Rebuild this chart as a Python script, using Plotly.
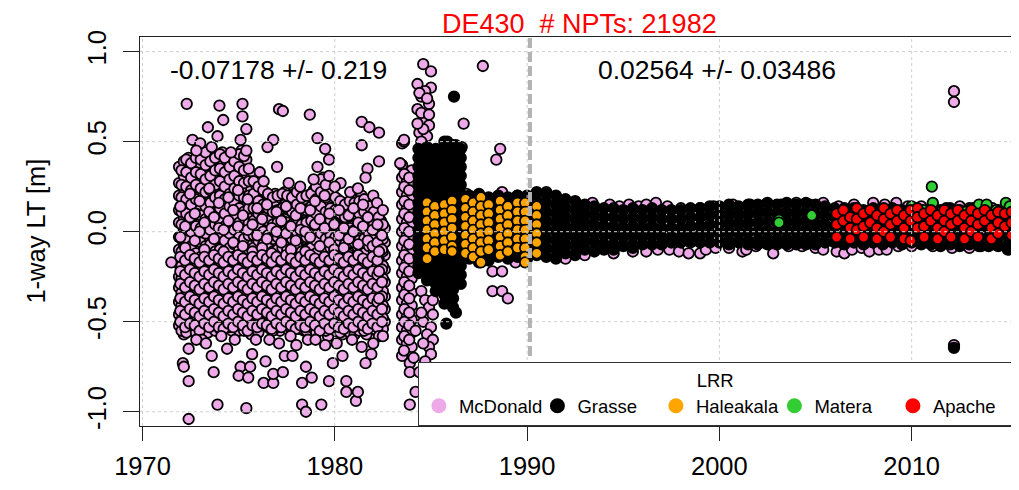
import plotly.graph_objects as go

# ---------------- data ----------------
# McDonald: dense columns (epoch -> list of residuals, m)
mcd_col_epochs = [1971.9, 1972.15, 1972.4, 1972.65, 1972.9, 1973.15, 1973.4, 1973.65, 1973.9, 1974.15,
                  1974.4, 1974.65, 1974.9, 1975.15, 1975.4, 1975.65, 1975.9, 1976.15, 1976.4, 1976.65,
                  1976.9, 1977.15, 1977.4, 1977.65, 1977.9, 1978.15, 1978.4, 1978.65, 1978.9, 1979.15,
                  1979.4, 1979.65, 1979.9, 1980.15, 1980.4, 1980.65, 1980.9, 1981.15, 1981.4, 1981.65,
                  1981.9, 1982.15, 1982.4, 1982.6,
                  1983.5, 1983.75, 1984.0]
mcd_col_values = [
    [0.36, 0.27, 0.2, 0.12, 0.05, -0.03, -0.1, -0.18, -0.25, -0.31, -0.39, -0.46, -0.52],
    [0.39, 0.31, 0.24, 0.15, 0.08, 0.01, -0.07, -0.14, -0.22, -0.29, -0.36, -0.43, -0.5, -0.57],
    [0.41, 0.34, 0.26, 0.19, 0.11, 0.03, -0.04, -0.12, -0.19, -0.27, -0.34, -0.41, -0.49, -0.55],
    [0.37, 0.3, 0.22, 0.14, 0.07, -0.01, -0.09, -0.16, -0.23, -0.31, -0.38, -0.45, -0.52],
    [0.44, 0.36, 0.28, 0.21, 0.13, 0.06, -0.02, -0.1, -0.17, -0.25, -0.32, -0.4, -0.47, -0.54],
    [0.4, 0.33, 0.25, 0.17, 0.09, 0.02, -0.06, -0.13, -0.21, -0.28, -0.35, -0.43, -0.5],
    [0.42, 0.35, 0.27, 0.2, 0.12, 0.04, -0.03, -0.11, -0.18, -0.26, -0.33, -0.41, -0.48, -0.56],
    [0.43, 0.35, 0.28, 0.2, 0.12, 0.05, -0.03, -0.1, -0.18, -0.25, -0.33, -0.4, -0.47, -0.53],
    [0.4, 0.32, 0.24, 0.16, 0.09, 0.01, -0.07, -0.14, -0.22, -0.29, -0.37, -0.44, -0.51],
    [0.44, 0.37, 0.29, 0.21, 0.14, 0.06, -0.02, -0.09, -0.17, -0.24, -0.32, -0.39, -0.46, -0.53],
    [0.38, 0.3, 0.23, 0.15, 0.07, -0.0, -0.08, -0.15, -0.23, -0.3, -0.38, -0.45, -0.52],
    [0.35, 0.28, 0.2, 0.12, 0.05, -0.03, -0.1, -0.18, -0.25, -0.33, -0.4, -0.47, -0.55],
    [0.41, 0.33, 0.26, 0.18, 0.1, 0.03, -0.05, -0.12, -0.2, -0.27, -0.35, -0.42, -0.5],
    [0.45, 0.38, 0.3, 0.22, 0.15, 0.07, -0.01, -0.08, -0.16, -0.23, -0.31, -0.38, -0.46, -0.53],
    [0.4, 0.32, 0.25, 0.17, 0.09, 0.02, -0.06, -0.13, -0.21, -0.28, -0.36, -0.43, -0.51],
    [0.31, 0.24, 0.16, 0.09, 0.01, -0.06, -0.14, -0.21, -0.29, -0.36, -0.44, -0.51, -0.57],
    [0.26, 0.19, 0.11, 0.04, -0.04, -0.11, -0.19, -0.26, -0.34, -0.41, -0.48, -0.54],
    [0.24, 0.16, 0.09, 0.01, -0.06, -0.14, -0.21, -0.29, -0.36, -0.43, -0.5],
    [0.22, 0.15, 0.07, 0.0, -0.08, -0.15, -0.23, -0.3, -0.38, -0.45, -0.52],
    [0.2, 0.13, 0.05, -0.02, -0.1, -0.17, -0.25, -0.32, -0.39, -0.47, -0.54],
    [0.21, 0.14, 0.06, -0.01, -0.09, -0.16, -0.24, -0.31, -0.38, -0.46, -0.52],
    [0.19, 0.12, 0.04, -0.03, -0.11, -0.18, -0.26, -0.33, -0.41, -0.48, -0.55],
    [0.22, 0.15, 0.07, 0.0, -0.08, -0.15, -0.22, -0.3, -0.37, -0.45, -0.51],
    [0.2, 0.12, 0.05, -0.03, -0.1, -0.18, -0.25, -0.33, -0.4, -0.47, -0.53],
    [0.21, 0.14, 0.06, -0.01, -0.09, -0.16, -0.23, -0.31, -0.38, -0.46, -0.52],
    [0.2, 0.13, 0.05, -0.02, -0.1, -0.17, -0.25, -0.32, -0.4, -0.47, -0.54],
    [0.18, 0.11, 0.03, -0.04, -0.12, -0.19, -0.27, -0.34, -0.41, -0.49, -0.55],
    [0.2, 0.12, 0.05, -0.03, -0.1, -0.18, -0.25, -0.32, -0.4, -0.47, -0.52],
    [0.23, 0.16, 0.08, 0.01, -0.07, -0.14, -0.22, -0.29, -0.37, -0.44, -0.51],
    [0.28, 0.2, 0.13, 0.05, -0.02, -0.1, -0.17, -0.25, -0.32, -0.39, -0.47, -0.53],
    [0.3, 0.22, 0.15, 0.07, 0.0, -0.08, -0.15, -0.23, -0.3, -0.38, -0.45, -0.52],
    [0.22, 0.15, 0.07, 0.0, -0.08, -0.15, -0.23, -0.3, -0.37, -0.45, -0.52, -0.58],
    [0.2, 0.13, 0.05, -0.02, -0.1, -0.17, -0.24, -0.32, -0.39, -0.47, -0.53],
    [0.18, 0.11, 0.03, -0.04, -0.12, -0.19, -0.27, -0.34, -0.42, -0.49, -0.55],
    [0.16, 0.09, 0.01, -0.06, -0.14, -0.21, -0.29, -0.36, -0.43, -0.51, -0.57],
    [0.15, 0.08, 0.0, -0.07, -0.15, -0.22, -0.3, -0.37, -0.44, -0.52],
    [0.18, 0.11, 0.03, -0.04, -0.12, -0.19, -0.27, -0.34, -0.41, -0.49, -0.55],
    [0.14, 0.07, -0.01, -0.08, -0.16, -0.23, -0.31, -0.38, -0.45, -0.53],
    [0.2, 0.12, 0.05, -0.03, -0.1, -0.18, -0.25, -0.33, -0.4, -0.47, -0.54],
    [0.16, 0.09, 0.01, -0.06, -0.14, -0.21, -0.29, -0.36, -0.43, -0.51, -0.57],
    [0.12, 0.05, -0.03, -0.1, -0.18, -0.25, -0.33, -0.4, -0.47, -0.53],
    [0.1, 0.02, -0.05, -0.13, -0.2, -0.28, -0.35, -0.42, -0.49, -0.55],
    [0.06, -0.02, -0.09, -0.17, -0.24, -0.31, -0.39, -0.46, -0.52],
    [0.02, -0.06, -0.13, -0.21, -0.28, -0.36, -0.43, -0.5],
    [0.37, 0.3, 0.22, 0.15, 0.07, 0.0, -0.08, -0.16, -0.23, -0.31, -0.38, -0.46, -0.53, -0.6],
    [0.28, 0.2, 0.13, 0.05, -0.02, -0.1, -0.17, -0.25, -0.32, -0.4, -0.47, -0.55, -0.62],
    [0.34, 0.26, 0.19, 0.11, 0.04, -0.04, -0.11, -0.19, -0.26, -0.34, -0.41, -0.49, -0.56, -0.64],
]
# McDonald: second set of dense columns (interleaved normal points)
mcd_col_epochs_b = [1972.03, 1972.28, 1972.53, 1972.78, 1973.03, 1973.28, 1973.53, 1973.78, 1974.03, 1974.28,
                    1974.53, 1974.78, 1975.03, 1975.28, 1975.53, 1975.78, 1976.03, 1976.28, 1976.53, 1976.78,
                    1977.03, 1977.28, 1977.53, 1977.78, 1978.03, 1978.28, 1978.53, 1978.78, 1979.03, 1979.28,
                    1979.53, 1979.78, 1980.03, 1980.28, 1980.53, 1980.78, 1981.03, 1981.28, 1981.53, 1981.78,
                    1982.03, 1982.28, 1982.5, 1983.62, 1983.87]
mcd_col_values_b = [
    [0.34, 0.26, 0.19, 0.11, 0.04, -0.04, -0.11, -0.19, -0.26, -0.34, -0.41, -0.49, -0.55],
    [0.4, 0.33, 0.25, 0.18, 0.1, 0.02, -0.05, -0.13, -0.2, -0.28, -0.35, -0.42, -0.5, -0.56],
    [0.38, 0.3, 0.23, 0.15, 0.07, 0.0, -0.08, -0.15, -0.23, -0.3, -0.38, -0.45, -0.52],
    [0.41, 0.33, 0.26, 0.18, 0.1, 0.03, -0.05, -0.12, -0.2, -0.27, -0.35, -0.42, -0.49, -0.56],
    [0.4, 0.32, 0.24, 0.17, 0.09, 0.02, -0.06, -0.14, -0.21, -0.29, -0.36, -0.44, -0.51],
    [0.44, 0.37, 0.29, 0.22, 0.14, 0.07, -0.01, -0.08, -0.16, -0.23, -0.31, -0.38, -0.45, -0.52],
    [0.39, 0.31, 0.23, 0.16, 0.08, 0.01, -0.07, -0.14, -0.22, -0.29, -0.37, -0.44, -0.51],
    [0.41, 0.34, 0.26, 0.19, 0.11, 0.04, -0.04, -0.11, -0.19, -0.26, -0.34, -0.41, -0.49, -0.55],
    [0.43, 0.35, 0.28, 0.2, 0.13, 0.05, -0.02, -0.1, -0.17, -0.25, -0.32, -0.4, -0.47, -0.54],
    [0.41, 0.33, 0.25, 0.18, 0.1, 0.03, -0.05, -0.12, -0.2, -0.27, -0.35, -0.42, -0.5],
    [0.36, 0.29, 0.21, 0.14, 0.06, -0.01, -0.09, -0.16, -0.24, -0.31, -0.39, -0.46, -0.53],
    [0.39, 0.31, 0.24, 0.16, 0.08, 0.01, -0.07, -0.14, -0.22, -0.29, -0.37, -0.44, -0.51],
    [0.43, 0.36, 0.28, 0.2, 0.13, 0.05, -0.03, -0.1, -0.18, -0.25, -0.33, -0.4, -0.48, -0.55],
    [0.42, 0.34, 0.27, 0.19, 0.11, 0.04, -0.04, -0.11, -0.19, -0.26, -0.34, -0.41, -0.49, -0.55],
    [0.35, 0.28, 0.2, 0.13, 0.05, -0.02, -0.1, -0.17, -0.25, -0.32, -0.4, -0.47, -0.54],
    [0.28, 0.21, 0.13, 0.06, -0.02, -0.09, -0.17, -0.24, -0.32, -0.39, -0.46, -0.53],
    [0.25, 0.17, 0.1, 0.02, -0.05, -0.13, -0.2, -0.28, -0.35, -0.42, -0.49, -0.56],
    [0.23, 0.15, 0.08, 0.0, -0.07, -0.15, -0.22, -0.3, -0.37, -0.44, -0.52],
    [0.21, 0.13, 0.06, -0.02, -0.09, -0.17, -0.24, -0.31, -0.39, -0.46, -0.53],
    [0.19, 0.11, 0.04, -0.04, -0.11, -0.19, -0.26, -0.33, -0.41, -0.48, -0.55],
    [0.2, 0.12, 0.05, -0.03, -0.1, -0.18, -0.25, -0.32, -0.4, -0.47, -0.53],
    [0.21, 0.13, 0.06, -0.02, -0.09, -0.17, -0.24, -0.31, -0.39, -0.46, -0.52],
    [0.2, 0.13, 0.05, -0.02, -0.1, -0.17, -0.25, -0.32, -0.39, -0.47, -0.54],
    [0.19, 0.11, 0.04, -0.04, -0.11, -0.19, -0.26, -0.34, -0.41, -0.48, -0.55],
    [0.22, 0.15, 0.07, 0.0, -0.08, -0.15, -0.23, -0.3, -0.37, -0.45, -0.51],
    [0.19, 0.12, 0.04, -0.03, -0.11, -0.18, -0.26, -0.33, -0.4, -0.48, -0.54],
    [0.2, 0.12, 0.05, -0.03, -0.1, -0.18, -0.25, -0.33, -0.4, -0.47, -0.55],
    [0.21, 0.14, 0.06, -0.01, -0.09, -0.16, -0.24, -0.31, -0.38, -0.46, -0.53],
    [0.25, 0.18, 0.1, 0.03, -0.05, -0.12, -0.2, -0.27, -0.35, -0.42, -0.49, -0.56],
    [0.29, 0.22, 0.14, 0.07, -0.01, -0.08, -0.16, -0.23, -0.31, -0.38, -0.45, -0.52],
    [0.26, 0.19, 0.11, 0.04, -0.04, -0.11, -0.19, -0.26, -0.33, -0.41, -0.48, -0.55],
    [0.21, 0.13, 0.06, -0.02, -0.09, -0.17, -0.24, -0.31, -0.39, -0.46, -0.54],
    [0.19, 0.12, 0.04, -0.03, -0.11, -0.18, -0.26, -0.33, -0.4, -0.48, -0.55],
    [0.17, 0.1, 0.02, -0.05, -0.13, -0.2, -0.28, -0.35, -0.42, -0.5, -0.56],
    [0.15, 0.08, 0.0, -0.07, -0.15, -0.22, -0.3, -0.37, -0.44, -0.52],
    [0.17, 0.09, 0.02, -0.06, -0.13, -0.21, -0.28, -0.35, -0.43, -0.5, -0.56],
    [0.16, 0.09, 0.01, -0.06, -0.14, -0.21, -0.28, -0.36, -0.43, -0.51, -0.57],
    [0.17, 0.1, 0.02, -0.05, -0.13, -0.2, -0.28, -0.35, -0.42, -0.5, -0.55],
    [0.18, 0.11, 0.03, -0.04, -0.12, -0.19, -0.27, -0.34, -0.41, -0.49, -0.55],
    [0.14, 0.07, -0.01, -0.08, -0.16, -0.23, -0.31, -0.38, -0.45, -0.52],
    [0.11, 0.04, -0.04, -0.11, -0.19, -0.26, -0.34, -0.41, -0.48, -0.54],
    [0.08, 0.0, -0.07, -0.15, -0.22, -0.3, -0.37, -0.44, -0.51],
    [0.04, -0.04, -0.11, -0.19, -0.26, -0.33, -0.41, -0.48, -0.54],
    [0.32, 0.25, 0.17, 0.1, 0.02, -0.05, -0.13, -0.2, -0.28, -0.35, -0.43, -0.5, -0.58],
    [0.3, 0.23, 0.15, 0.08, 0.0, -0.07, -0.15, -0.22, -0.3, -0.37, -0.45, -0.52, -0.6],
]
# McDonald: third set of columns (the crowded middle and lower part of the cloud)
mcd_col_epochs_c = [1971.97, 1972.22, 1972.47, 1972.72, 1972.97, 1973.22, 1973.47, 1973.72, 1973.97, 1974.22,
                    1974.47, 1974.72, 1974.97, 1975.22, 1975.47, 1975.72, 1975.97, 1976.22, 1976.47, 1976.72,
                    1976.97, 1977.22, 1977.47, 1977.72, 1977.97, 1978.22, 1978.47, 1978.72, 1978.97, 1979.22,
                    1979.47, 1979.72, 1979.97, 1980.22, 1980.47, 1980.72, 1980.97, 1981.22, 1981.47, 1981.72,
                    1981.97, 1982.22, 1982.45]
mcd_col_values_c = [
    [0.14, -0.03, -0.14, -0.22, -0.29, -0.37, -0.44, -0.5],
    [0.03, -0.09, -0.16, -0.24, -0.31, -0.39, -0.46, -0.53],
    [0.21, 0.08, -0.13, -0.21, -0.28, -0.36, -0.43, -0.51],
    [0.1, -0.05, -0.15, -0.23, -0.3, -0.38, -0.45, -0.52],
    [0.17, 0.0, -0.17, -0.25, -0.32, -0.4, -0.47, -0.55],
    [0.05, -0.1, -0.14, -0.22, -0.29, -0.37, -0.44, -0.51],
    [0.24, 0.11, -0.16, -0.24, -0.31, -0.39, -0.46, -0.53],
    [0.08, -0.04, -0.13, -0.21, -0.28, -0.36, -0.43, -0.5],
    [0.16, 0.02, -0.15, -0.23, -0.3, -0.38, -0.45, -0.53],
    [0.01, -0.11, -0.17, -0.25, -0.32, -0.4, -0.47, -0.54],
    [0.19, 0.06, -0.14, -0.22, -0.29, -0.37, -0.44, -0.51],
    [0.12, -0.06, -0.16, -0.24, -0.31, -0.39, -0.46, -0.53],
    [0.23, 0.03, -0.13, -0.21, -0.28, -0.36, -0.43, -0.5],
    [0.09, -0.08, -0.15, -0.23, -0.3, -0.38, -0.45, -0.52],
    [0.18, 0.01, -0.17, -0.25, -0.32, -0.4, -0.47, -0.55],
    [0.04, -0.11, -0.14, -0.22, -0.29, -0.37, -0.44, -0.52],
    [0.13, -0.02, -0.16, -0.24, -0.31, -0.39, -0.46, -0.53],
    [0.07, -0.09, -0.13, -0.21, -0.28, -0.36, -0.43, -0.51],
    [0.15, -0.04, -0.15, -0.23, -0.3, -0.38, -0.45, -0.52],
    [0.02, -0.12, -0.17, -0.25, -0.32, -0.4, -0.47, -0.54],
    [0.11, 0.0, -0.14, -0.22, -0.29, -0.37, -0.44, -0.51],
    [0.06, -0.06, -0.16, -0.24, -0.31, -0.39, -0.46, -0.53],
    [0.14, -0.01, -0.13, -0.21, -0.28, -0.36, -0.43, -0.5],
    [0.03, -0.1, -0.15, -0.23, -0.3, -0.38, -0.45, -0.52],
    [0.09, -0.05, -0.17, -0.25, -0.32, -0.4, -0.47, -0.54],
    [0.13, 0.01, -0.14, -0.22, -0.29, -0.37, -0.44, -0.52],
    [0.0, -0.11, -0.16, -0.24, -0.31, -0.39, -0.46, -0.53],
    [0.12, -0.03, -0.13, -0.21, -0.28, -0.36, -0.43, -0.5],
    [0.17, 0.04, -0.15, -0.23, -0.3, -0.38, -0.45, -0.52],
    [0.07, -0.08, -0.17, -0.25, -0.32, -0.4, -0.47, -0.55],
    [0.2, 0.02, -0.14, -0.22, -0.29, -0.37, -0.44, -0.51],
    [0.1, -0.06, -0.16, -0.24, -0.31, -0.39, -0.46, -0.54],
    [0.04, -0.1, -0.13, -0.21, -0.28, -0.36, -0.43, -0.51],
    [0.12, -0.02, -0.15, -0.23, -0.3, -0.38, -0.45, -0.53],
    [0.02, -0.09, -0.17, -0.25, -0.32, -0.4, -0.47, -0.54],
    [0.09, -0.04, -0.14, -0.22, -0.29, -0.37, -0.44, -0.51],
    [0.13, 0.0, -0.16, -0.24, -0.31, -0.39, -0.46, -0.53],
    [0.05, -0.07, -0.13, -0.21, -0.28, -0.36, -0.43, -0.5],
    [0.15, 0.03, -0.15, -0.23, -0.3, -0.38, -0.45, -0.52],
    [0.08, -0.05, -0.17, -0.25, -0.32, -0.4, -0.47, -0.54],
    [0.01, -0.08, -0.14, -0.22, -0.29, -0.37, -0.44, -0.51],
    [0.04, -0.06, -0.16, -0.24, -0.31, -0.39, -0.46, -0.53],
    [-0.02, -0.1, -0.21, -0.28, -0.36, -0.43, -0.5],
]
# McDonald: individual points
mcd_epochs = [1972.3, 1974.0, 1975.2, 1975.2, 1974.2, 1975.4, 1973.4, 1977.1, 1977.3, 1978.7,
              1981.4, 1981.8, 1982.3, 1981.4, 1982.3, 1981.7, 1976.8, 1976.5, 1979.1, 1979.5,
              1979.7, 1979.1, 1977.0, 1972.6, 1973.0, 1973.9, 1975.1, 1975.4, 1980.3, 1979.7,
              1972.8, 1973.6, 1974.6, 1976.1, 1976.3, 1977.6, 1978.2, 1978.9, 1980.0, 1980.8,
              1981.2, 1981.6, 1982.0, 1982.2, 1982.5,
              1972.4, 1972.1, 1972.15, 1972.4, 1972.4, 1973.1, 1973.7, 1973.9, 1973.6, 1974.4,
              1975.1, 1975.0, 1975.5, 1975.6, 1975.4, 1975.7, 1976.4, 1976.3, 1976.8, 1976.8,
              1977.3, 1977.4, 1977.8, 1978.3, 1978.5, 1978.5, 1978.8, 1978.3, 1979.3, 1979.7,
              1980.6, 1980.6, 1981.1, 1981.2, 1981.6, 1981.9, 1980.4, 1979.9, 1982.3, 1982.3,
              1982.3, 1982.3, 1971.5,
              1972.8, 1973.3, 1974.1, 1974.8, 1975.9, 1976.6, 1977.1, 1977.7, 1978.0, 1978.6,
              1979.0, 1979.5, 1980.1, 1980.9, 1981.4, 1982.0, 1982.5,
              1983.4, 1983.5, 1983.6, 1983.5, 1983.9, 1983.9, 1984.2, 1983.9, 1983.6, 1984.2, 1984.1,
              1984.6, 1985.0, 1985.0, 1984.3, 1984.9, 1984.5, 1984.3, 1984.7, 1984.9, 1984.4,
              1984.8, 1983.6, 1984.5, 1984.7, 1984.4, 1984.9, 1984.6, 1984.3, 1984.8, 1984.5,
              1984.5, 1984.7, 1984.9, 1985.1, 1984.6, 1985.0, 1984.8, 1985.1, 1984.9, 1985.0,
              1984.6, 1984.5, 1984.7, 1984.4, 1985.1,
              1986.7, 1986.6, 1987.7, 1988.6, 1988.4, 1988.2, 1988.7, 1989.0, 1988.2, 1988.7,
              1989.4, 1986.85, 1988.7, 1989.5, 1990.6,
              1991.0, 1993.4, 1994.3, 1994.8, 1995.3, 1995.8, 1996.2, 1996.7, 1997.3, 1998.0,
              1999.0, 1999.7, 2000.7, 2001.6, 2002.4, 2003.2, 2004.0, 2004.7, 2005.4, 2006.2,
              2007.0, 2008.0, 2008.6, 2009.2, 2009.8, 2010.5, 2011.1, 2011.8, 2012.5, 2013.2,
              2014.2, 2014.9, 2015.4,
              1992.0, 1993.0, 1994.5, 1995.5, 1996.2, 1996.8, 1997.4, 1997.9, 1998.4, 1999.0,
              1999.3, 1999.8, 2000.5, 2001.2, 2001.4, 2001.9, 2002.8, 2003.1, 2003.6, 2004.3,
              2005.0, 2005.4, 2006.1, 2006.5, 2006.9, 2007.4, 2007.8, 2008.3, 2008.7, 2009.3,
              2010.0, 2011.1, 2011.6, 2012.1, 2013.0, 2013.6, 2014.3,
              2012.2, 2012.2, 2012.2]
mcd_values = [0.71, 0.70, 0.71, 0.64, 0.62, 0.57, 0.58, 0.68, 0.67, 0.65,
              0.61, 0.58, 0.55, 0.48, 0.39, 0.35, 0.51, 0.47, 0.52, 0.46,
              0.40, 0.36, 0.36, 0.51, 0.49, 0.53, 0.51, 0.45, 0.27, 0.31,
              0.45, 0.47, 0.44, 0.33, 0.28, 0.27, 0.25, 0.29, 0.25, 0.22,
              0.24, 0.30, 0.20, 0.16, 0.12,
              -0.65, -0.73, -0.75, -0.83, -1.04, -0.60, -0.78, -0.96, -0.69, -0.65,
              -0.75, -0.80, -0.81, -0.75, -0.98, -0.68, -0.72, -0.84, -0.84, -0.79,
              -0.78, -0.69, -0.69, -0.96, -1.00, -0.75, -0.81, -0.84, -0.96, -0.83,
              -0.83, -0.89, -0.94, -0.89, -0.73, -0.68, -0.69, -0.73, -0.58, -0.11,
              -0.22, -0.37, -0.17,
              -0.60, -0.62, -0.58, -0.60, -0.60, -0.60, -0.62, -0.58, -0.63, -0.60,
              -0.60, -0.63, -0.62, -0.60, -0.64, -0.62, -0.58,
              0.38, 0.49, 0.50, -0.69, -0.73, -0.78, -0.89, -0.96, -0.66, -0.55, -0.70,
              0.93, 0.89, 0.80, 0.82, 0.71, 0.75, 0.68, 0.62, 0.59, 0.55,
              0.53, 0.51, 0.66, 0.78, 0.77, 0.65, 0.57, 0.60, 0.74, 0.50,
              -0.33, -0.38, -0.42, -0.46, -0.50, -0.53, -0.57, -0.60, -0.64, -0.68,
              -0.62, -0.45, -0.72, -0.78, -0.38,
              0.60, 0.47, 0.92, 0.46, 0.40, -0.33, -0.33, -0.37, -0.22, -0.22,
              -0.17, 0.21, 0.22, 0.20, 0.19,
              0.22, 0.16, 0.15, 0.14, 0.15, 0.14, 0.15, 0.16, 0.14, 0.13,
              0.13, 0.14, 0.15, 0.15, 0.15, 0.15, 0.16, 0.15, 0.16, 0.14,
              0.15, 0.16, 0.15, 0.16, 0.14, 0.14, 0.14, 0.13, 0.14, 0.13,
              0.13, 0.13, 0.12,
              -0.15, -0.13, -0.12, -0.11, -0.11, -0.10, -0.10, -0.11, -0.12, -0.12,
              -0.10, -0.09, -0.09, -0.11, -0.10, -0.08, -0.12, -0.06, -0.08, -0.08,
              -0.09, -0.10, -0.11, -0.12, -0.10, -0.09, -0.11, -0.10, -0.10, -0.08,
              -0.08, -0.08, -0.07, -0.09, -0.09, -0.08, -0.07,
              0.78, 0.72, -0.63]

# Grasse: dense columns
grasse_col_epochs = [1984.35, 1984.8, 1985.25, 1985.7, 1986.15, 1986.55,
                     1987.0, 1987.5, 1988.0, 1988.5, 1989.0, 1989.5, 1990.0, 1990.5, 1991.0, 1991.5,
                     1992.0, 1992.5, 1993.0, 1993.5, 1994.0, 1994.5, 1995.0, 1995.5, 1996.0, 1996.5,
                     1997.0, 1997.5, 1998.0, 1998.5, 1999.0, 1999.5, 2000.0, 2000.5, 2001.0, 2001.5,
                     2002.0, 2002.5, 2003.0, 2003.5, 2004.0, 2004.5, 2005.0, 2005.5, 2006.0, 2006.5,
                     2007.0, 2007.5, 2008.0, 2008.5, 2009.0, 2009.5, 2010.0, 2010.5, 2011.0, 2011.5,
                     2012.0, 2012.5, 2013.0, 2013.5, 2014.0, 2014.5, 2015.0, 2015.5]
grasse_col_values = [
    [0.46, 0.41, 0.36, 0.31, 0.26, 0.21, 0.16, 0.11, 0.06, 0.01, -0.04, -0.09, -0.14, -0.19, -0.23],
    [0.47, 0.42, 0.37, 0.32, 0.27, 0.22, 0.17, 0.12, 0.07, 0.02, -0.03, -0.08, -0.13, -0.18, -0.23, -0.27],
    [0.46, 0.41, 0.36, 0.31, 0.26, 0.21, 0.16, 0.11, 0.06, 0.01, -0.04, -0.09, -0.14, -0.19, -0.24, -0.29, -0.33],
    [0.5, 0.45, 0.4, 0.35, 0.3, 0.25, 0.2, 0.15, 0.1, 0.05, 0.0, -0.05, -0.1, -0.15, -0.2, -0.25, -0.3, -0.35, -0.4],
    [0.48, 0.43, 0.38, 0.33, 0.28, 0.23, 0.18, 0.13, 0.08, 0.03, -0.02, -0.07, -0.12, -0.17, -0.22, -0.27, -0.32, -0.37, -0.42],
    [0.46, 0.41, 0.36, 0.31, 0.26, 0.21, 0.16, 0.11, 0.06, 0.01, -0.04, -0.09, -0.14, -0.19, -0.24, -0.29],
    [0.2, 0.15, 0.1, 0.05, 0.0, -0.05, -0.1, -0.15],
    [0.21, 0.17, 0.12, 0.07, 0.02, -0.03, -0.08, -0.13, -0.17],
    [0.19, 0.14, 0.09, 0.04, -0.01, -0.06, -0.11, -0.16],
    [0.2, 0.16, 0.11, 0.06, 0.01, -0.04, -0.09, -0.14],
    [0.19, 0.14, 0.09, 0.04, -0.01, -0.06, -0.11, -0.15],
    [0.2, 0.16, 0.11, 0.06, 0.01, -0.04, -0.09, -0.14],
    [0.2, 0.15, 0.1, 0.05, 0.0, -0.05, -0.1, -0.15],
    [0.22, 0.17, 0.12, 0.07, 0.02, -0.03, -0.08, -0.13],
    [0.21, 0.16, 0.11, 0.06, 0.01, -0.04, -0.09, -0.14],
    [0.2, 0.15, 0.1, 0.05, 0.0, -0.05, -0.1, -0.15],
    [0.18, 0.13, 0.08, 0.03, -0.02, -0.07, -0.12],
    [0.17, 0.12, 0.07, 0.02, -0.03, -0.08, -0.13],
    [0.15, 0.1, 0.05, 0.0, -0.05, -0.1],
    [0.14, 0.09, 0.04, -0.01, -0.06, -0.11],
    [0.13, 0.08, 0.03, -0.02, -0.07, -0.1],
    [0.13, 0.08, 0.03, -0.02, -0.07, -0.1],
    [0.12, 0.07, 0.02, -0.03, -0.08],
    [0.13, 0.08, 0.03, -0.02, -0.07, -0.09],
    [0.12, 0.07, 0.02, -0.03, -0.07],
    [0.13, 0.08, 0.03, -0.02, -0.07],
    [0.12, 0.07, 0.02, -0.03, -0.07],
    [0.12, 0.07, 0.02, -0.03, -0.06],
    [0.12, 0.07, 0.02, -0.03, -0.06],
    [0.13, 0.08, 0.03, -0.02, -0.06],
    [0.13, 0.08, 0.03, -0.02, -0.06],
    [0.14, 0.09, 0.04, -0.01, -0.06],
    [0.14, 0.09, 0.04, -0.01, -0.06],
    [0.15, 0.1, 0.05, 0.0, -0.05, -0.07],
    [0.14, 0.09, 0.04, -0.01, -0.06],
    [0.15, 0.1, 0.05, 0.0, -0.05, -0.07],
    [0.15, 0.1, 0.05, 0.0, -0.05, -0.07],
    [0.16, 0.11, 0.06, 0.01, -0.04, -0.07],
    [0.15, 0.1, 0.05, 0.0, -0.05, -0.07],
    [0.16, 0.11, 0.06, 0.01, -0.04, -0.07],
    [0.15, 0.1, 0.05, 0.0, -0.05, -0.07],
    [0.16, 0.11, 0.06, 0.01, -0.04, -0.07],
    [0.15, 0.1, 0.05, 0.0, -0.05, -0.07],
    [0.14, 0.09, 0.04, -0.01, -0.06],
    [0.13, 0.08, 0.03, -0.02, -0.06],
    [0.13, 0.08, 0.03, -0.02, -0.07],
    [0.13, 0.08, 0.03, -0.02, -0.06],
    [0.12, 0.07, 0.02, -0.03, -0.07],
    [0.13, 0.08, 0.03, -0.02, -0.06],
    [0.12, 0.07, 0.02, -0.03, -0.07],
    [0.13, 0.08, 0.03, -0.02, -0.06],
    [0.12, 0.07, 0.02, -0.03, -0.07],
    [0.13, 0.08, 0.03, -0.02, -0.06],
    [0.12, 0.07, 0.02, -0.03, -0.07],
    [0.13, 0.08, 0.03, -0.02, -0.07],
    [0.12, 0.07, 0.02, -0.03, -0.08],
    [0.13, 0.08, 0.03, -0.02, -0.07],
    [0.12, 0.07, 0.02, -0.03, -0.08],
    [0.13, 0.08, 0.03, -0.02, -0.07],
    [0.12, 0.07, 0.02, -0.03, -0.08],
    [0.12, 0.07, 0.02, -0.03, -0.08],
    [0.12, 0.07, 0.02, -0.03, -0.08],
    [0.13, 0.08, 0.03, -0.02, -0.07, -0.1],
    [0.12, 0.07, 0.02, -0.03, -0.08, -0.11],
]
grasse_epochs = [1986.2, 1985.8, 1986.3, 2012.2, 1985.85, 1986.3]
grasse_values = [0.75, -0.51, -0.45, -0.645, 0.5, 0.48]

# Haleakala: columns
hal_col_epochs = [1984.8, 1985.2, 1985.7, 1986.1, 1986.8, 1987.2, 1987.6, 1988.0, 1988.6,
                  1989.0, 1989.5, 1989.9, 1990.5]
hal_col_values = [
    [0.16, 0.11, 0.06, 0.01, -0.04, -0.09, -0.15],
    [0.14, 0.09, 0.04, -0.01, -0.06, -0.11],
    [0.15, 0.1, 0.05, 0.0, -0.05, -0.1],
    [0.17, 0.12, 0.07, 0.02, -0.03, -0.08, -0.11],
    [0.18, 0.13, 0.08, 0.03, -0.02, -0.07, -0.12],
    [0.16, 0.11, 0.06, 0.01, -0.04, -0.09, -0.14],
    [0.19, 0.14, 0.09, 0.04, -0.01, -0.06, -0.11, -0.17],
    [0.15, 0.1, 0.05, 0.0, -0.05, -0.1],
    [0.17, 0.12, 0.07, 0.02, -0.03, -0.08, -0.13],
    [0.14, 0.09, 0.04, -0.01, -0.06, -0.11],
    [0.16, 0.11, 0.06, 0.01, -0.04, -0.09],
    [0.16, 0.11, 0.06, 0.01, -0.04, -0.09, -0.14, -0.17],
    [0.14, 0.09, 0.04, -0.01, -0.06, -0.12],
]

# Matera: points
mat_epochs = [2003.1, 2003.1, 2004.8, 2011.05, 2011.1, 2010.0, 2013.5, 2013.9, 2014.9, 2015.3,
              2011.6, 2012.8, 2014.4, 2015.1, 2010.6, 2014.0]
mat_values = [0.065, 0.05, 0.09, 0.25, 0.16, 0.14, 0.15, 0.15, 0.16, 0.13,
              0.12, 0.11, 0.12, 0.14, 0.12, 0.10]

# Apache: columns
apa_col_epochs = [2006.1, 2006.45, 2006.8, 2007.15, 2007.5, 2007.85, 2008.2, 2008.55, 2008.9, 2009.25,
                  2009.6, 2009.95, 2010.3, 2010.65, 2011.0, 2011.35, 2011.7, 2012.05, 2012.4, 2012.75,
                  2013.1, 2013.45, 2013.8, 2014.15, 2014.5, 2014.85, 2015.2, 2015.5]
apa_col_values = [
    [0.1, 0.04, -0.03], [0.12, 0.06], [0.08, 0.02, -0.04],
    [0.13, 0.07, 0.01], [0.1, 0.03, -0.03], [0.12, 0.05],
    [0.09, 0.02, -0.04], [0.13, 0.07, 0.0], [0.1, 0.04, -0.03],
    [0.12, 0.06], [0.09, 0.02, -0.04], [0.12, 0.06, -0.05],
    [0.13, 0.08, 0.02], [0.1, 0.03, -0.03], [0.12, 0.06],
    [0.09, 0.02, -0.04], [0.12, 0.06, 0.0], [0.1, 0.04, -0.03],
    [0.12, 0.06], [0.09, 0.02, -0.04], [0.12, 0.06, 0.0],
    [0.1, 0.04, -0.03], [0.12, 0.06], [0.09, 0.02, -0.04],
    [0.11, 0.05, -0.01], [0.1, 0.03], [0.11, 0.05, -0.02],
    [0.09, 0.03],
]

stations = ["McDonald", "Grasse", "Haleakala", "Matera", "Apache"]
station_colors = ["#EEA9E8", "#000000", "#FFA500", "#32CD32", "#FF0000"]

x_ticks = [1970, 1980, 1990, 2000, 2010]
y_ticks = [-1.0, -0.5, 0.0, 0.5, 1.0]
y_tick_labels = ["-1.0", "-0.5", "0.0", "0.5", "1.0"]
title_text = "DE430  # NPTs: 21982"
stat_texts = ["-0.07178 +/- 0.219", "0.02564 +/- 0.03486"]
stat_epochs = [1977.05, 1999.9]
split_epoch = 1990.15


def flatten(col_sets, epochs=(), values=()):
    xs, ys = [], []
    for col_epochs, col_values in col_sets:
        for t, vals in zip(col_epochs, col_values):
            for v in vals:
                xs.append(t)
                ys.append(v)
    xs.extend(epochs)
    ys.extend(values)
    return xs, ys


series = [
    flatten([(mcd_col_epochs, mcd_col_values), (mcd_col_epochs_b, mcd_col_values_b),
             (mcd_col_epochs_c, mcd_col_values_c)], mcd_epochs, mcd_values),
    flatten([(grasse_col_epochs, grasse_col_values)], grasse_epochs, grasse_values),
    flatten([(hal_col_epochs, hal_col_values)]),
    flatten([], mat_epochs, mat_values),
    flatten([(apa_col_epochs, apa_col_values)]),
]

FONT = "Liberation Sans, Arial, Helvetica, sans-serif"
fig = go.Figure()
for name, col, (xs, ys) in zip(stations, station_colors, series):
    fig.add_trace(go.Scatter(x=xs, y=ys, mode="markers", name=name, showlegend=False,
                             marker=dict(size=10.5, color=col, line=dict(color="black", width=1.8))))
for name, col in zip(stations, station_colors):
    fig.add_trace(go.Scatter(x=[None], y=[None], mode="markers", name=name, showlegend=True,
                             marker=dict(size=15, color=col, line=dict(width=0))))

X0, X1 = 1969.87, 2015.53
Y0, Y1 = -1.079, 1.081
shapes = []
for xv in x_ticks:
    shapes.append(dict(type="line", xref="x", yref="y", x0=xv, x1=xv, y0=Y0, y1=Y1, layer="above",
                       line=dict(color="#cfcfcf", width=1, dash="3px,3px")))
for yv in y_ticks:
    shapes.append(dict(type="line", xref="x", yref="y", x0=X0, x1=X1, y0=yv, y1=yv, layer="above",
                       line=dict(color="#cfcfcf", width=1, dash="3px,3px")))
shapes.append(dict(type="line", xref="x", yref="y", x0=split_epoch, x1=split_epoch, y0=-0.69, y1=Y1,
                   layer="above", line=dict(color="#b3b3b3", width=4, dash="10px,4px")))

annotations = [
    dict(text=title_text, xref="paper", yref="paper", x=0.5, y=1.0742, xanchor="center",
         yanchor="top", borderpad=0, showarrow=False, font=dict(family=FONT, size=27, color="#FF0000")),
    dict(text="1-way LT [m]", xref="paper", yref="paper", x=-0.1195, y=0.5, xanchor="center",
         yanchor="middle", textangle=-90, showarrow=False, font=dict(family=FONT, size=25.5, color="black")),
]
for t, txt in zip(stat_epochs, stat_texts):
    annotations.append(dict(text=txt, xref="x", yref="y", x=t, y=0.9, xanchor="center", yanchor="middle",
                            showarrow=False, font=dict(family=FONT, size=26.5, color="black")))

# the page body adds an 8px margin on every side, so the figure is sized to fit
# inside the window without scrollbars and margins are 8px tighter
fig.update_layout(
    width=1011, height=472,
    margin=dict(l=132, r=0, t=29, b=52),
    paper_bgcolor="white", plot_bgcolor="white",
    shapes=shapes, annotations=annotations,
    font=dict(family=FONT, color="black"),
    xaxis=dict(range=[X0, X1], tickvals=x_ticks, ticktext=[str(v) for v in x_ticks],
               showgrid=False, zeroline=False, showline=True, linecolor="#222", linewidth=1.2, mirror=True,
               ticks="outside", ticklen=14, tickwidth=1.2, tickcolor="#222",
               tickfont=dict(family=FONT, size=25.5, color="black"), ticklabelstandoff=3),
    yaxis=dict(range=[Y0, Y1], tickvals=y_ticks, ticktext=y_tick_labels, tickangle=-90,
               showgrid=False, zeroline=False, showline=True, linecolor="#222", linewidth=1.2, mirror=True,
               ticks="outside", ticklen=16, tickwidth=1.2, tickcolor="#222",
               tickfont=dict(family=FONT, size=25.5, color="black"), ticklabelstandoff=7),
    legend=dict(orientation="h", x=0.3163, xanchor="left", y=0, yanchor="bottom",
                bgcolor="white", bordercolor="#333", borderwidth=1.2,
                font=dict(family=FONT, size=18.5, color="black"),
                title=dict(text="LRR", side="top center", font=dict(family=FONT, size=18.5, color="black")),
                entrywidth=73.5, entrywidthmode="pixels", itemwidth=30, tracegroupgap=0),
)

fig.write_html("out.html")
